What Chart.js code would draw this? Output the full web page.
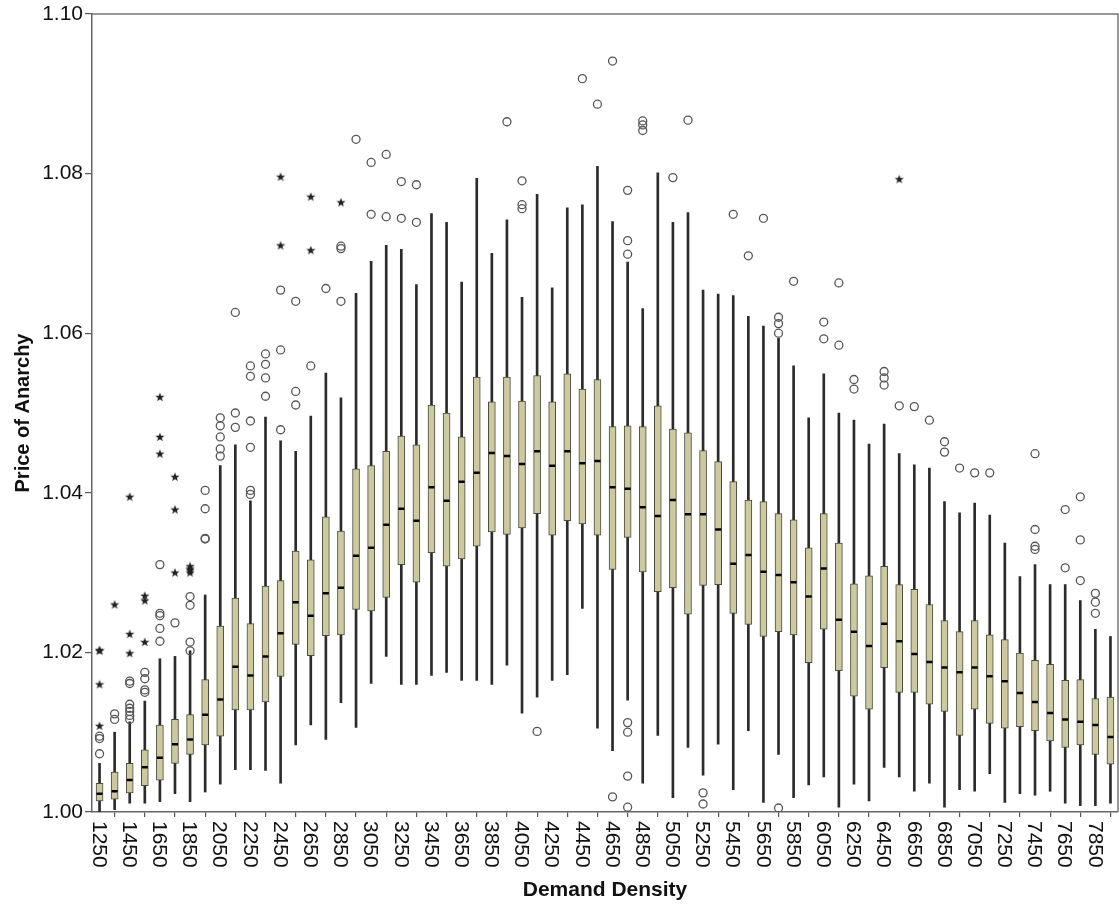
<!DOCTYPE html>
<html>
<head>
<meta charset="utf-8">
<script src="https://cdn.jsdelivr.net/npm/chart.js@4/dist/chart.umd.min.js"></script>
<style>
    html, body { margin: 0; padding: 0; background: #fff; }
    #wrap { width: 1119px; height: 906px; }
</style>
</head>
<body>
<div id="wrap"><canvas id="chart"></canvas></div>
<script>
const categories = [
    1250, 1350, 1450, 1550, 1650, 1750, 1850, 1950, 2050, 2150, 2250, 2350,
    2450, 2550, 2650, 2750, 2850, 2950, 3050, 3150, 3250, 3350, 3450, 3550,
    3650, 3750, 3850, 3950, 4050, 4150, 4250, 4350, 4450, 4550, 4650, 4750,
    4850, 4950, 5050, 5150, 5250, 5350, 5450, 5550, 5650, 5750, 5850, 5950,
    6050, 6150, 6250, 6350, 6450, 6550, 6650, 6750, 6850, 6950, 7050, 7150,
    7250, 7350, 7450, 7550, 7650, 7750, 7850, 7950
]

const whiskerLow = [
    1.0000, 1.0003, 1.0011, 1.0011, 1.0013, 1.0023, 1.0013, 1.0025, 1.0035, 1.0053, 1.0053, 1.0052,
    1.0036, 1.0084, 1.0109, 1.0091, 1.0137, 1.0106, 1.0161, 1.0195, 1.0160, 1.0160, 1.0171, 1.0175,
    1.0165, 1.0165, 1.0160, 1.0184, 1.0124, 1.0144, 1.0165, 1.0172, 1.0255, 1.0105, 1.0077, 1.0140,
    1.0036, 1.0096, 1.0018, 1.0081, 1.0046, 1.0085, 1.0028, 1.0102, 1.0012, 1.0072, 1.0018, 1.0034,
    1.0044, 1.0006, 1.0035, 1.0014, 1.0056, 1.0044, 1.0026, 1.0036, 1.0006, 1.0028, 1.0026, 1.0048,
    1.0012, 1.0023, 1.0021, 1.0026, 1.0011, 1.0008, 1.0008, 1.0011
]

const quartileLow = [
    1.0014, 1.0016, 1.0024, 1.0033, 1.0040, 1.0061, 1.0072, 1.0084, 1.0095, 1.0128, 1.0128, 1.0138,
    1.0170, 1.0210, 1.0196, 1.0221, 1.0222, 1.0254, 1.0252, 1.0269, 1.0310, 1.0288, 1.0325, 1.0308,
    1.0317, 1.0333, 1.0351, 1.0348, 1.0356, 1.0374, 1.0347, 1.0365, 1.0361, 1.0347, 1.0304, 1.0344,
    1.0301, 1.0276, 1.0281, 1.0248, 1.0284, 1.0285, 1.0249, 1.0235, 1.0220, 1.0226, 1.0222, 1.0187,
    1.0229, 1.0177, 1.0145, 1.0129, 1.0181, 1.0150, 1.0150, 1.0135, 1.0126, 1.0096, 1.0129, 1.0111,
    1.0105, 1.0107, 1.0102, 1.0089, 1.0081, 1.0084, 1.0072, 1.0060
]

const medians = [
    1.0023, 1.0026, 1.0040, 1.0056, 1.0068, 1.0085, 1.0091, 1.0122, 1.0141, 1.0182, 1.0171, 1.0195,
    1.0224, 1.0263, 1.0246, 1.0274, 1.0281, 1.0321, 1.0331, 1.0360, 1.0380, 1.0365, 1.0407, 1.0390,
    1.0414, 1.0425, 1.0450, 1.0446, 1.0436, 1.0452, 1.0434, 1.0452, 1.0437, 1.0440, 1.0407, 1.0405,
    1.0382, 1.0371, 1.0391, 1.0373, 1.0373, 1.0354, 1.0311, 1.0322, 1.0301, 1.0297, 1.0288, 1.0270,
    1.0305, 1.0241, 1.0226, 1.0208, 1.0236, 1.0214, 1.0198, 1.0188, 1.0181, 1.0175, 1.0181, 1.0170,
    1.0164, 1.0149, 1.0138, 1.0124, 1.0116, 1.0113, 1.0109, 1.0094
]

const quartileHigh = [
    1.0036, 1.0050, 1.0061, 1.0078, 1.0109, 1.0116, 1.0122, 1.0166, 1.0233, 1.0268, 1.0236, 1.0283,
    1.0290, 1.0327, 1.0316, 1.0370, 1.0352, 1.0430, 1.0434, 1.0452, 1.0471, 1.0460, 1.0510, 1.0500,
    1.0470, 1.0545, 1.0514, 1.0545, 1.0515, 1.0547, 1.0514, 1.0549, 1.0530, 1.0542, 1.0483, 1.0484,
    1.0483, 1.0509, 1.0480, 1.0475, 1.0453, 1.0439, 1.0414, 1.0391, 1.0389, 1.0374, 1.0366, 1.0331,
    1.0374, 1.0337, 1.0286, 1.0296, 1.0308, 1.0285, 1.0279, 1.0260, 1.0240, 1.0226, 1.0240, 1.0222,
    1.0216, 1.0199, 1.0190, 1.0185, 1.0165, 1.0166, 1.0142, 1.0144
]

const whiskerHigh = [
    1.0061, 1.0100, 1.0113, 1.0139, 1.0192, 1.0195, 1.0202, 1.0272, 1.0434, 1.0460, 1.0390, 1.0495,
    1.0465, 1.0452, 1.0496, 1.0550, 1.0519, 1.0650, 1.0690, 1.0710, 1.0705, 1.0661, 1.0750, 1.0739,
    1.0664, 1.0794, 1.0700, 1.0742, 1.0645, 1.0774, 1.0657, 1.0757, 1.0761, 1.0809, 1.0740, 1.0689,
    1.0631, 1.0801, 1.0739, 1.0751, 1.0654, 1.0649, 1.0647, 1.0621, 1.0609, 1.0594, 1.0559, 1.0494,
    1.0549, 1.0500, 1.0491, 1.0461, 1.0486, 1.0449, 1.0435, 1.0431, 1.0389, 1.0375, 1.0387, 1.0372,
    1.0337, 1.0295, 1.0310, 1.0285, 1.0285, 1.0265, 1.0229, 1.0220
]

// [demand density, value] — circles
const outliers = [
    [1250, 1.0073], [1250, 1.0092], [1250, 1.0095],
    [1350, 1.0116], [1350, 1.0123],
    [1450, 1.0116], [1450, 1.0121], [1450, 1.0126], [1450, 1.0130], [1450, 1.0135], [1450, 1.0161], [1450, 1.0164],
    [1550, 1.0150], [1550, 1.0153], [1550, 1.0167], [1550, 1.0175],
    [1650, 1.0214], [1650, 1.0230], [1650, 1.0246], [1650, 1.0249], [1650, 1.0310],
    [1750, 1.0237],
    [1850, 1.0202], [1850, 1.0213], [1850, 1.0259], [1850, 1.0270],
    [1950, 1.0342], [1950, 1.0343], [1950, 1.0380], [1950, 1.0403],
    [2050, 1.0446], [2050, 1.0455], [2050, 1.0470], [2050, 1.0484], [2050, 1.0494],
    [2150, 1.0482], [2150, 1.0500], [2150, 1.0626],
    [2250, 1.0398], [2250, 1.0403], [2250, 1.0457], [2250, 1.0490], [2250, 1.0546], [2250, 1.0559],
    [2350, 1.0521], [2350, 1.0544], [2350, 1.0561], [2350, 1.0574],
    [2450, 1.0479], [2450, 1.0579], [2450, 1.0654],
    [2550, 1.0510], [2550, 1.0527], [2550, 1.0640],
    [2650, 1.0559],
    [2750, 1.0656],
    [2850, 1.0640], [2850, 1.0706], [2850, 1.0709],
    [2950, 1.0843],
    [3050, 1.0749], [3050, 1.0814],
    [3150, 1.0746], [3150, 1.0824],
    [3250, 1.0744], [3250, 1.0790],
    [3350, 1.0739], [3350, 1.0786],
    [3950, 1.0865],
    [4050, 1.0756], [4050, 1.0761], [4050, 1.0791],
    [4150, 1.0101],
    [4450, 1.0919],
    [4550, 1.0887],
    [4650, 1.0019], [4650, 1.0941],
    [4750, 1.0006], [4750, 1.0045], [4750, 1.0100], [4750, 1.0112], [4750, 1.0699], [4750, 1.0716], [4750, 1.0779],
    [4850, 1.0854], [4850, 1.0861], [4850, 1.0866],
    [5050, 1.0795],
    [5150, 1.0867],
    [5250, 1.0010], [5250, 1.0024],
    [5450, 1.0749],
    [5550, 1.0697],
    [5650, 1.0744],
    [5750, 1.0005], [5750, 1.0600], [5750, 1.0612], [5750, 1.0620],
    [5850, 1.0665],
    [6050, 1.0593], [6050, 1.0614],
    [6150, 1.0585], [6150, 1.0663],
    [6250, 1.0530], [6250, 1.0542],
    [6450, 1.0535], [6450, 1.0544], [6450, 1.0552],
    [6550, 1.0509],
    [6650, 1.0508],
    [6750, 1.0491],
    [6850, 1.0451], [6850, 1.0464],
    [6950, 1.0431],
    [7050, 1.0425],
    [7150, 1.0425],
    [7450, 1.0329], [7450, 1.0333], [7450, 1.0354], [7450, 1.0449],
    [7650, 1.0306], [7650, 1.0379],
    [7750, 1.0290], [7750, 1.0341], [7750, 1.0395],
    [7850, 1.0249], [7850, 1.0263], [7850, 1.0274]
]

// [demand density, value] — stars
const extremes = [
    [1250, 1.0108], [1250, 1.0160], [1250, 1.0202], [1250, 1.0203],
    [1350, 1.0260],
    [1450, 1.0199], [1450, 1.0223], [1450, 1.0395],
    [1550, 1.0213], [1550, 1.0265], [1550, 1.0271],
    [1650, 1.0449], [1650, 1.0470], [1650, 1.0520],
    [1750, 1.0300], [1750, 1.0379], [1750, 1.0420],
    [1850, 1.0300], [1850, 1.0303], [1850, 1.0305], [1850, 1.0308],
    [2450, 1.0710], [2450, 1.0796],
    [2650, 1.0704], [2650, 1.0771],
    [2850, 1.0764],
    [6550, 1.0793]
]

const yTicks = { min: 1.0, max: 1.1, step: 0.02 }
const labelFont = '21px "Liberation Sans", Arial, sans-serif'


function makeStar() {
    const c = document.createElement("canvas")
    c.width = 10
    c.height = 10
    const g = c.getContext("2d")
    g.fillStyle = "#222"
    g.beginPath()
    for (let k = 0; k < 10; k++) {
        const r = k % 2 === 0 ? 4.8 : 2
        const a = -Math.PI / 2 + k * Math.PI / 5
        g.lineTo(5 + r * Math.cos(a), 5.3 + r * Math.sin(a))
    }
    g.closePath()
    g.fill()
    return c
}

// x labels read top to bottom, so draw them ourselves at the scale's tick pixels
const rotatedLabels = {
    id: "rotatedLabels",
    afterDraw(chart) {
        const ctx = chart.ctx
        const xs = chart.scales.x
        ctx.save()
        ctx.font = labelFont
        ctx.fillStyle = "#111"
        ctx.textAlign = "left"
        ctx.textBaseline = "middle"
        xs.ticks.forEach((t, i) => {
            if (t.label == null) return
            ctx.save()
            ctx.translate(xs.getPixelForTick(i) - 1, xs.top + 9)
            ctx.rotate(Math.PI / 2)
            ctx.fillText(t.label, 0, 0)
            ctx.restore()
        })
        ctx.restore()
    }
}

const frame = {
    id: "frame",
    afterDraw(chart) {
        const { ctx, chartArea } = chart
        ctx.save()
        ctx.strokeStyle = "#777"
        ctx.lineWidth = 1.5
        ctx.beginPath()
        ctx.moveTo(chartArea.left, chartArea.top)
        ctx.lineTo(chartArea.right, chartArea.top)
        ctx.lineTo(chartArea.right, chartArea.bottom)
        ctx.stroke()
        ctx.restore()
    }
}

window.addEventListener("load", () => {
    const labels = categories.map(String)
    const toPoint = ([c, v]) => ({ x: String(c), y: v })

    new Chart(document.querySelector("#chart"), {
        data: {
            labels: labels,
            datasets: [
                {
                    type: "bar",
                    order: 4,
                    grouped: false,
                    data: categories.map((c, i) => [whiskerLow[i], whiskerHigh[i]]),
                    backgroundColor: "#2b2b2b",
                    barThickness: 2
                },
                {
                    type: "bar",
                    order: 3,
                    grouped: false,
                    data: categories.map((c, i) => [quartileLow[i], quartileHigh[i]]),
                    backgroundColor: "#cdc99f",
                    borderColor: "#4a4a40",
                    borderWidth: 1,
                    borderSkipped: false,
                    barThickness: 7
                },
                {
                    type: "line",
                    order: 2,
                    showLine: false,
                    data: categories.map((c, i) => ({ x: String(c), y: medians[i] })),
                    pointStyle: "line",
                    pointRadius: 3,
                    borderColor: "#000",
                    borderWidth: 2.5
                },
                {
                    type: "line",
                    order: 1,
                    showLine: false,
                    data: outliers.map(toPoint),
                    pointStyle: "circle",
                    pointRadius: 4,
                    borderColor: "#555",
                    backgroundColor: "rgba(0,0,0,0)",
                    borderWidth: 1.3
                },
                {
                    type: "line",
                    order: 0,
                    showLine: false,
                    data: extremes.map(toPoint),
                    pointStyle: makeStar(),
                    pointRadius: 5
                }
            ]
        },
        options: {
            responsive: true,
            maintainAspectRatio: false,
            animation: false,
            events: [],
            layout: { autoPadding: false, padding: { top: 14, right: 1, left: 0, bottom: 0 } },
            plugins: {
                legend: { display: false },
                tooltip: { enabled: false }
            },
            scales: {
                x: {
                    type: "category",
                    offset: true,
                    afterFit: s => {
                        s.height = 94
                        s.paddingLeft = 0
                        s.paddingRight = 0
                    },
                    grid: { drawOnChartArea: false, tickLength: 5, color: "#555", lineWidth: 1.2 },
                    border: { color: "#666", width: 1.5 },
                    ticks: {
                        autoSkip: false,
                        minRotation: 90,
                        maxRotation: 90,
                        color: "rgba(0,0,0,0)",
                        font: { family: "Liberation Sans", size: 21 },
                        callback: (v, i) => i % 2 === 0 ? labels[i] : null
                    },
                    title: {
                        display: true,
                        text: "Demand Density",
                        color: "#111",
                        font: { family: "Liberation Sans", size: 21, weight: "bold" },
                        padding: { top: 0, bottom: 3 }
                    }
                },
                y: {
                    min: yTicks.min,
                    max: yTicks.max,
                    afterFit: s => {
                        s.width = 92
                        s.paddingTop = 0
                        s.paddingBottom = 0
                    },
                    grid: { drawOnChartArea: false, tickLength: 7, color: "#555", lineWidth: 1.2 },
                    border: { color: "#666", width: 1.5 },
                    ticks: {
                        stepSize: yTicks.step,
                        padding: 2,
                        color: "#111",
                        font: { family: "Liberation Sans", size: 21 },
                        callback: v => v.toFixed(2)
                    },
                    title: {
                        display: true,
                        text: "Price of Anarchy",
                        color: "#111",
                        font: { family: "Liberation Sans", size: 20, weight: "bold" },
                        padding: { top: 11, bottom: 0 }
                    }
                }
            }
        },
        plugins: [rotatedLabels, frame]
    })
})
</script>
</body>
</html>
